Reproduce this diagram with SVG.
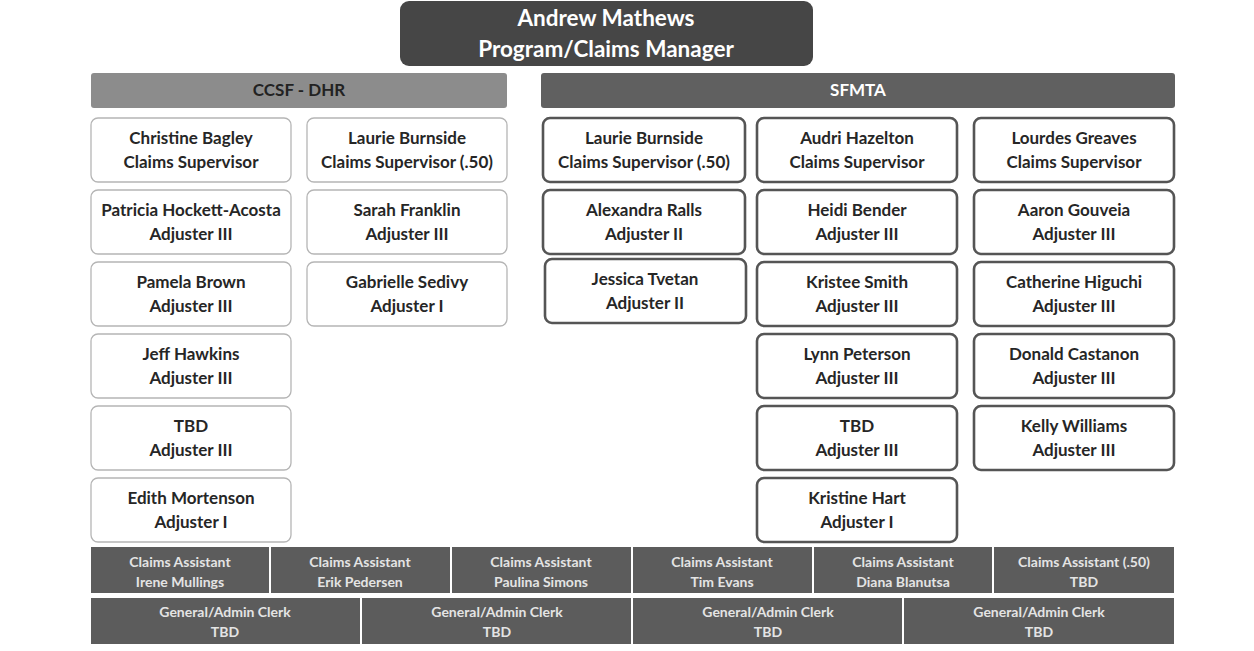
<svg xmlns="http://www.w3.org/2000/svg" width="1254" height="651" viewBox="0 0 1254 651">
<style>
text{font-family:Lato,"Liberation Sans",sans-serif;font-weight:700;text-anchor:middle;dominant-baseline:central}
.bg{fill:#fff}
.mgr{fill:#464646}
.mgrt{fill:#fff;font-size:22.5px}
.hd1{fill:#8c8c8c}
.hd2{fill:#606060}
.hdt1{fill:#222;font-size:17px}
.hdt2{fill:#fff;font-size:17px}
.b1{fill:#fff;stroke:#b5b5b5;stroke-width:1.3}
.b2{fill:#fff;stroke:#555;stroke-width:2.6}
.bt{fill:#262626;font-size:17px}
.cell{fill:#5c5c5c}
.ct{fill:#e4e4e4;font-size:14px}
</style>
<rect class="bg" width="1254" height="651"/>
<g id="manager">
<rect class="mgr" x="400" y="1" width="413" height="65" rx="9"/>
<text class="mgrt" x="606" y="17">Andrew Mathews</text>
<text class="mgrt" x="606" y="48">Program/Claims Manager</text>
</g>
<g id="ccsf-dhr">
<rect class="hd1" x="91" y="73" width="416" height="35" rx="3"/>
<text class="hdt1" x="299" y="89">CCSF - DHR</text>
</g>
<g id="sfmta">
<rect class="hd2" x="541" y="73" width="634" height="35" rx="3"/>
<text class="hdt2" x="858" y="89">SFMTA</text>
</g>
<g id="ccsf-c1r1"><rect class="b1" x="91" y="118" width="200" height="64" rx="7"/><text class="bt" x="191" y="137">Christine Bagley</text><text class="bt" x="191" y="161">Claims Supervisor</text></g>
<g id="ccsf-c1r2"><rect class="b1" x="91" y="190" width="200" height="64" rx="7"/><text class="bt" x="191" y="209">Patricia Hockett-Acosta</text><text class="bt" x="191" y="233">Adjuster III</text></g>
<g id="ccsf-c1r3"><rect class="b1" x="91" y="262" width="200" height="64" rx="7"/><text class="bt" x="191" y="281">Pamela Brown</text><text class="bt" x="191" y="305">Adjuster III</text></g>
<g id="ccsf-c1r4"><rect class="b1" x="91" y="334" width="200" height="64" rx="7"/><text class="bt" x="191" y="353">Jeff Hawkins</text><text class="bt" x="191" y="377">Adjuster III</text></g>
<g id="ccsf-c1r5"><rect class="b1" x="91" y="406" width="200" height="64" rx="7"/><text class="bt" x="191" y="425">TBD</text><text class="bt" x="191" y="449">Adjuster III</text></g>
<g id="ccsf-c1r6"><rect class="b1" x="91" y="478" width="200" height="64" rx="7"/><text class="bt" x="191" y="497">Edith Mortenson</text><text class="bt" x="191" y="521">Adjuster I</text></g>
<g id="ccsf-c2r1"><rect class="b1" x="307" y="118" width="200" height="64" rx="7"/><text class="bt" x="407" y="137">Laurie Burnside</text><text class="bt" x="407" y="161">Claims Supervisor (.50)</text></g>
<g id="ccsf-c2r2"><rect class="b1" x="307" y="190" width="200" height="64" rx="7"/><text class="bt" x="407" y="209">Sarah Franklin</text><text class="bt" x="407" y="233">Adjuster III</text></g>
<g id="ccsf-c2r3"><rect class="b1" x="307" y="262" width="200" height="64" rx="7"/><text class="bt" x="407" y="281">Gabrielle Sedivy</text><text class="bt" x="407" y="305">Adjuster I</text></g>
<g id="sf-c1r1"><rect class="b2" x="543" y="118" width="202" height="64" rx="7"/><text class="bt" x="644" y="137">Laurie Burnside</text><text class="bt" x="644" y="161">Claims Supervisor (.50)</text></g>
<g id="sf-c1r2"><rect class="b2" x="543" y="190" width="202" height="64" rx="7"/><text class="bt" x="644" y="209">Alexandra Ralls</text><text class="bt" x="644" y="233">Adjuster II</text></g>
<g id="sf-c1r3"><rect class="b2" x="545" y="259" width="201" height="64" rx="7"/><text class="bt" x="645" y="278">Jessica Tvetan</text><text class="bt" x="645" y="302">Adjuster II</text></g>
<g id="sf-c2r1"><rect class="b2" x="757" y="118" width="200" height="64" rx="7"/><text class="bt" x="857" y="137">Audri Hazelton</text><text class="bt" x="857" y="161">Claims Supervisor</text></g>
<g id="sf-c2r2"><rect class="b2" x="757" y="190" width="200" height="64" rx="7"/><text class="bt" x="857" y="209">Heidi Bender</text><text class="bt" x="857" y="233">Adjuster III</text></g>
<g id="sf-c2r3"><rect class="b2" x="757" y="262" width="200" height="64" rx="7"/><text class="bt" x="857" y="281">Kristee Smith</text><text class="bt" x="857" y="305">Adjuster III</text></g>
<g id="sf-c2r4"><rect class="b2" x="757" y="334" width="200" height="64" rx="7"/><text class="bt" x="857" y="353">Lynn Peterson</text><text class="bt" x="857" y="377">Adjuster III</text></g>
<g id="sf-c2r5"><rect class="b2" x="757" y="406" width="200" height="64" rx="7"/><text class="bt" x="857" y="425">TBD</text><text class="bt" x="857" y="449">Adjuster III</text></g>
<g id="sf-c2r6"><rect class="b2" x="757" y="478" width="200" height="64" rx="7"/><text class="bt" x="857" y="497">Kristine Hart</text><text class="bt" x="857" y="521">Adjuster I</text></g>
<g id="sf-c3r1"><rect class="b2" x="974" y="118" width="200" height="64" rx="7"/><text class="bt" x="1074" y="137">Lourdes Greaves</text><text class="bt" x="1074" y="161">Claims Supervisor</text></g>
<g id="sf-c3r2"><rect class="b2" x="974" y="190" width="200" height="64" rx="7"/><text class="bt" x="1074" y="209">Aaron Gouveia</text><text class="bt" x="1074" y="233">Adjuster III</text></g>
<g id="sf-c3r3"><rect class="b2" x="974" y="262" width="200" height="64" rx="7"/><text class="bt" x="1074" y="281">Catherine Higuchi</text><text class="bt" x="1074" y="305">Adjuster III</text></g>
<g id="sf-c3r4"><rect class="b2" x="974" y="334" width="200" height="64" rx="7"/><text class="bt" x="1074" y="353">Donald Castanon</text><text class="bt" x="1074" y="377">Adjuster III</text></g>
<g id="sf-c3r5"><rect class="b2" x="974" y="406" width="200" height="64" rx="7"/><text class="bt" x="1074" y="425">Kelly Williams</text><text class="bt" x="1074" y="449">Adjuster III</text></g>
<g id="ca1"><rect class="cell" x="91" y="547" width="178" height="46"/><text class="ct" x="180" y="561">Claims Assistant</text><text class="ct" x="180" y="581">Irene Mullings</text></g>
<g id="ca2"><rect class="cell" x="271" y="547" width="179" height="46"/><text class="ct" x="360" y="561">Claims Assistant</text><text class="ct" x="360" y="581">Erik Pedersen</text></g>
<g id="ca3"><rect class="cell" x="452" y="547" width="179" height="46"/><text class="ct" x="541" y="561">Claims Assistant</text><text class="ct" x="541" y="581">Paulina Simons</text></g>
<g id="ca4"><rect class="cell" x="633" y="547" width="179" height="46"/><text class="ct" x="722" y="561">Claims Assistant</text><text class="ct" x="722" y="581">Tim Evans</text></g>
<g id="ca5"><rect class="cell" x="814" y="547" width="178" height="46"/><text class="ct" x="903" y="561">Claims Assistant</text><text class="ct" x="903" y="581">Diana  Blanutsa</text></g>
<g id="ca6"><rect class="cell" x="994" y="547" width="180" height="46"/><text class="ct" x="1084" y="561">Claims Assistant (.50)</text><text class="ct" x="1084" y="581">TBD</text></g>
<g id="gc1"><rect class="cell" x="91" y="598" width="269" height="46"/><text class="ct" x="225" y="611">General/Admin Clerk</text><text class="ct" x="225" y="631">TBD</text></g>
<g id="gc2"><rect class="cell" x="362" y="598" width="269" height="46"/><text class="ct" x="497" y="611">General/Admin Clerk</text><text class="ct" x="497" y="631">TBD</text></g>
<g id="gc3"><rect class="cell" x="633" y="598" width="269" height="46"/><text class="ct" x="768" y="611">General/Admin Clerk</text><text class="ct" x="768" y="631">TBD</text></g>
<g id="gc4"><rect class="cell" x="904" y="598" width="270" height="46"/><text class="ct" x="1039" y="611">General/Admin Clerk</text><text class="ct" x="1039" y="631">TBD</text></g>
<g id="connectors"></g>
</svg>
